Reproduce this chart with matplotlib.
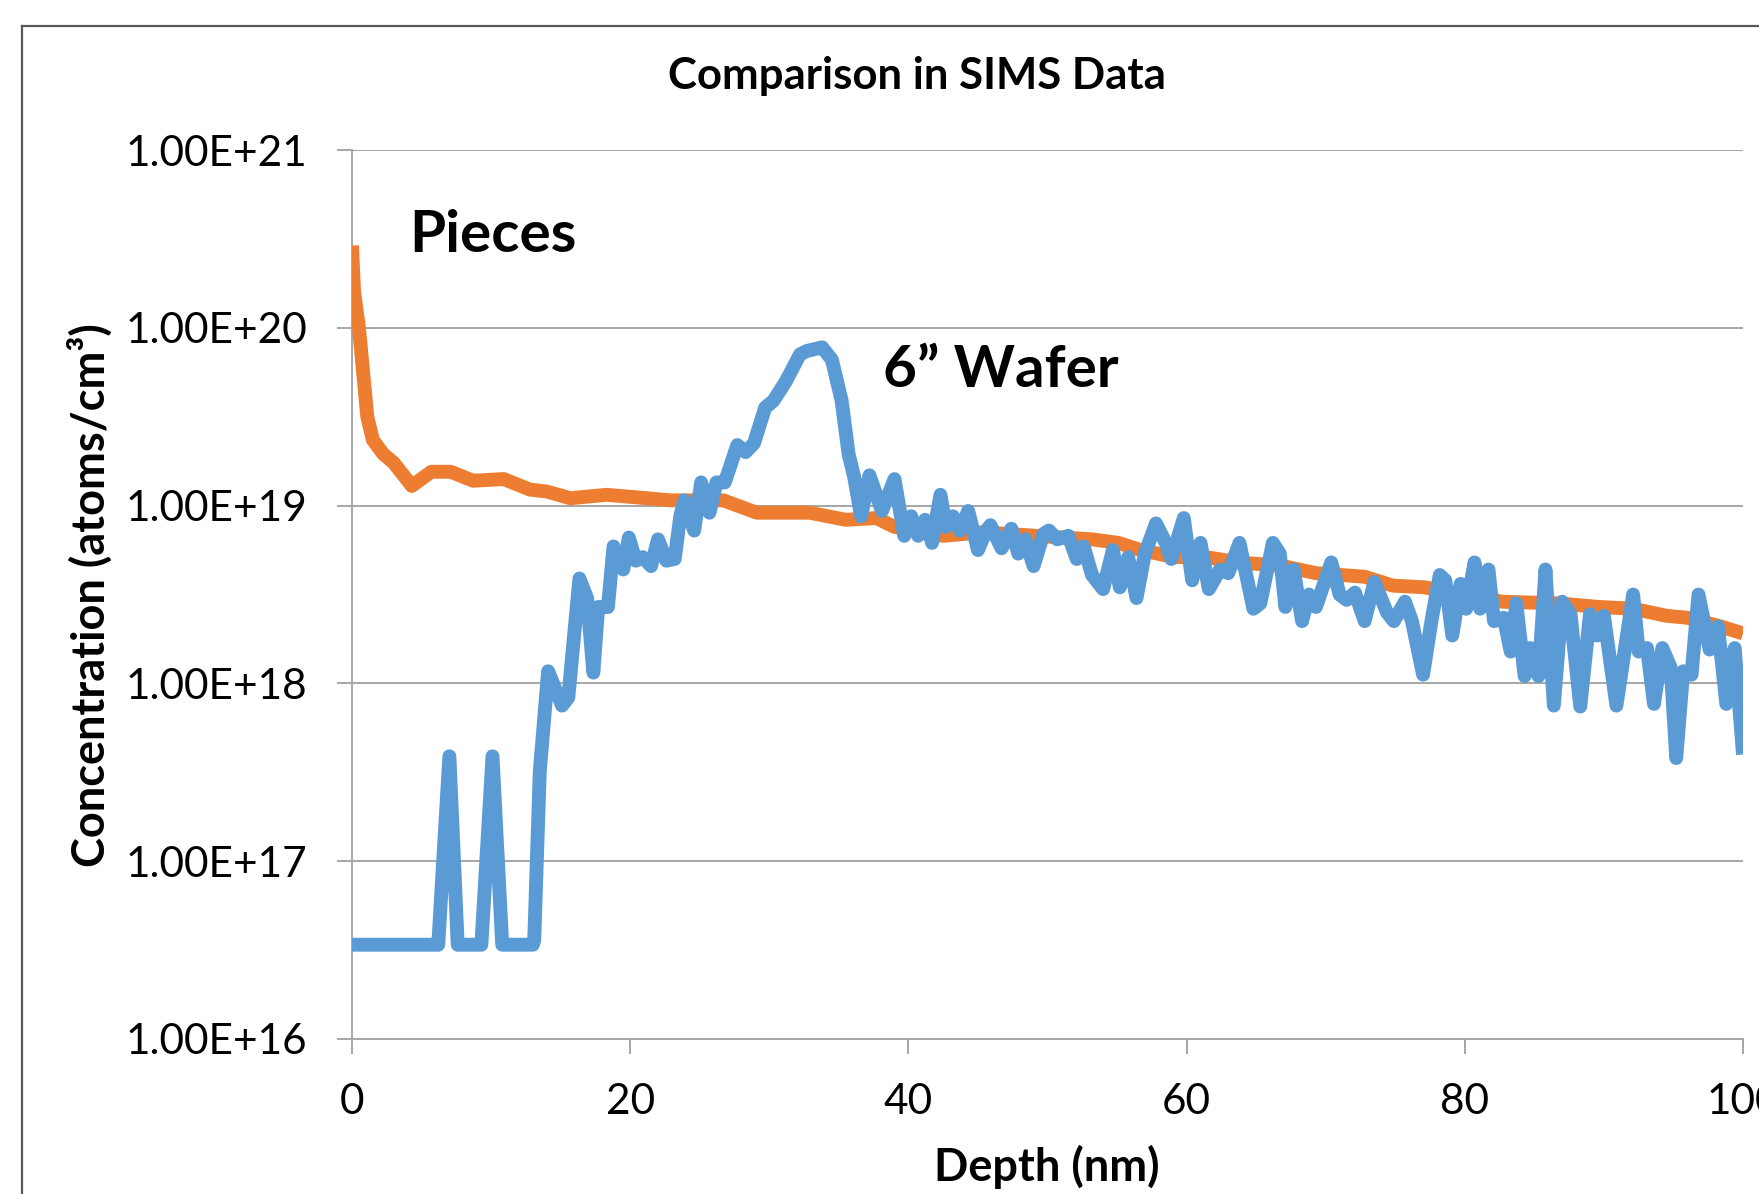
import matplotlib
matplotlib.use("Agg")
import matplotlib.pyplot as plt
from matplotlib.lines import Line2D

plt.rcParams['font.family'] = ['Lato', 'DejaVu Sans']

# ---- data ----
wafer_depth = [0, 6.2, 7.0, 7.6, 9.3, 10.1, 10.8, 13.0, 13.1, 13.5, 14.1, 15.1, 15.55, 16.35,
               16.9, 17.35, 17.7, 18.4, 18.8, 19.5, 19.9, 20.4, 20.9, 21.5, 22.0, 22.6, 23.2,
               23.6, 23.9, 24.6, 25.1, 25.7, 26.2, 26.8, 27.7, 28.3, 28.9, 29.7, 30.3, 31.2,
               32.2, 32.7, 33.8, 34.5, 35.2, 35.7, 36.1, 36.6, 37.2, 38.1, 39.0, 39.7, 40.2,
               40.7, 41.2, 41.7, 42.3, 42.7, 43.2, 43.7, 44.3, 45.0, 45.6, 45.9, 46.7, 47.4,
               47.9, 48.4, 49.0, 49.7, 50.1, 50.7, 51.5, 52.1, 52.6, 53.2, 54.0, 54.7, 55.2,
               55.8, 56.4, 57.0, 57.8, 58.5, 58.9, 59.8, 60.4, 61.0, 61.6, 62.4, 63.0, 63.8,
               64.8, 65.3, 66.2, 66.7, 67.1, 67.7, 68.3, 68.8, 69.3, 70.4, 71.0, 71.5, 72.1,
               72.8, 73.5, 74.4, 74.9, 75.7, 76.2, 77.0, 77.6, 78.2, 78.6, 79.1, 79.7, 80.1,
               80.7, 81.1, 81.7, 82.1, 82.8, 83.3, 83.7, 84.3, 84.7, 85.3, 85.8, 86.4, 87.0,
               87.6, 88.3, 89.0, 89.5, 90.0, 90.9, 92.1, 92.5, 93.1, 93.6, 94.2, 94.8, 95.2,
               95.7, 96.3, 96.8, 97.6, 98.2, 98.8, 99.4, 100.0]
wafer_conc = [3.39e16, 3.39e16, 3.89e17, 3.39e16, 3.39e16, 3.89e17, 3.39e16, 3.39e16, 3.6e16,
              3.2e17, 1.17e18, 7.50e17, 8.32e17, 3.89e18, 3.02e18, 1.15e18, 2.69e18, 2.69e18,
              5.89e18, 4.37e18, 6.61e18, 4.90e18, 5.13e18, 4.57e18, 6.46e18, 4.90e18, 5.01e18,
              8.71e18, 1.07e19, 7.24e18, 1.35e19, 9.12e18, 1.35e19, 1.35e19, 2.19e19, 2.00e19,
              2.24e19, 3.55e19, 3.89e19, 5.01e19, 7.08e19, 7.41e19, 7.76e19, 6.61e19, 3.89e19,
              1.95e19, 1.45e19, 8.71e18, 1.48e19, 9.33e18, 1.41e19, 6.76e18, 8.71e18, 6.76e18,
              8.32e18, 6.17e18, 1.15e19, 7.59e18, 8.71e18, 7.24e18, 9.33e18, 5.62e18, 7.24e18,
              7.76e18, 5.75e18, 7.41e18, 5.37e18, 6.46e18, 4.57e18, 6.92e18, 7.24e18, 6.46e18,
              6.76e18, 5.01e18, 5.89e18, 4.07e18, 3.39e18, 5.62e18, 3.47e18, 5.13e18, 3.02e18,
              5.37e18, 7.94e18, 6.17e18, 5.01e18, 8.51e18, 3.80e18, 6.17e18, 3.39e18, 4.37e18,
              4.17e18, 6.17e18, 2.63e18, 2.82e18, 6.17e18, 5.37e18, 2.69e18, 4.37e18, 2.24e18,
              3.16e18, 2.69e18, 4.79e18, 3.16e18, 2.95e18, 3.24e18, 2.24e18, 3.72e18, 2.51e18,
              2.24e18, 2.88e18, 2.24e18, 1.12e18, 2.24e18, 4.07e18, 3.80e18, 1.86e18, 3.63e18,
              2.63e18, 4.79e18, 2.63e18, 4.37e18, 2.24e18, 2.34e18, 1.51e18, 2.82e18, 1.10e18,
              1.58e18, 1.10e18, 4.37e18, 7.50e17, 2.88e18, 2.45e18, 7.41e17, 2.45e18, 1.86e18,
              2.40e18, 7.50e17, 3.16e18, 1.51e18, 1.58e18, 7.67e17, 1.58e18, 1.23e18, 3.80e17,
              1.17e18, 1.12e18, 3.16e18, 1.55e18, 2.09e18, 7.67e17, 1.58e18, 3.98e17]

pieces_depth = [0.0, 0.15, 0.5, 1.1, 1.5, 2.25, 3.0, 4.3, 5.7, 7.1, 8.7, 10.9, 12.8, 14.0,
                15.7, 18.3, 21.2, 22.9, 26.7, 29.1, 32.9, 35.5, 37.7, 39.0, 42.5, 45.3, 49.2,
                53.2, 55.1, 56.7, 59.1, 61.4, 63.8, 66.9, 69.3, 72.8, 74.8, 77.1, 82.7, 86.6,
                89.7, 92.1, 94.5, 96.0, 98.4, 100.0]
pieces_conc = [2.9e20, 1.6e20, 1.0e20, 3.16e19, 2.34e19, 1.95e19, 1.74e19, 1.29e19, 1.55e19,
               1.55e19, 1.38e19, 1.41e19, 1.23e19, 1.20e19, 1.10e19, 1.15e19, 1.10e19, 1.07e19,
               1.07e19, 9.12e18, 9.12e18, 8.32e18, 8.51e18, 7.59e18, 6.76e18, 7.08e18, 6.76e18,
               6.46e18, 6.17e18, 5.62e18, 5.13e18, 5.13e18, 4.79e18, 4.57e18, 4.17e18, 3.98e18,
               3.55e18, 3.47e18, 2.88e18, 2.82e18, 2.69e18, 2.63e18, 2.40e18, 2.34e18, 2.09e18,
               1.91e18]

x_ticks = [0, 20, 40, 60, 80, 100]
y_ticks = [1e16, 1e17, 1e18, 1e19, 1e20, 1e21]
y_tick_labels = ["1.00E+16", "1.00E+17", "1.00E+18", "1.00E+19", "1.00E+20", "1.00E+21"]

title = "Comparison in SIMS Data"
x_label = "Depth (nm)"
y_label = "Concentration (atoms/cm³)"

# ---- figure ----
W, H = 1759, 1194
fig = plt.figure(figsize=(W / 100, H / 100), dpi=100)

# outer chart frame (cropped at right/bottom)
fig.add_artist(Line2D([22 / W, 1.0], [1 - 26 / H, 1 - 26 / H], color="#595959", lw=1.6,
                      transform=fig.transFigure))
fig.add_artist(Line2D([22 / W, 22 / W], [1 - 26 / H, 0.0], color="#595959", lw=1.6,
                      transform=fig.transFigure))

ax = fig.add_axes([352 / W, 1 - 1039 / H, (1743 - 352) / W, (1039 - 150) / H])
ax.set_yscale("log")
ax.set_xlim(0, 100)
ax.set_ylim(1e16, 1e21)

grid_c = "#a6a6a6"
ax.plot(pieces_depth, pieces_conc, color="#ED7D31", lw=10, solid_joinstyle="round",
        solid_capstyle="butt", zorder=3)
ax.plot(wafer_depth, wafer_conc, color="#5B9BD5", lw=10, solid_joinstyle="round",
        solid_capstyle="butt", zorder=4)

ax.set_yticks(y_ticks)
ax.set_yticklabels(y_tick_labels)
ax.yaxis.set_minor_locator(matplotlib.ticker.NullLocator())
ax.set_xticks(x_ticks)
ax.set_xticklabels([str(v) for v in x_ticks])
ax.grid(axis="y", color=grid_c, lw=1.4, zorder=0)
for s in ["top", "right"]:
    ax.spines[s].set_visible(False)
for s in ["left", "bottom"]:
    ax.spines[s].set_color(grid_c)
    ax.spines[s].set_linewidth(1.4)
ax.tick_params(axis="both", colors=grid_c, width=1.4, length=10.5, labelsize=30.5,
               labelcolor="black")
ax.tick_params(axis="x", pad=21)
ax.tick_params(axis="y", pad=22)

ax.text(4.1, 10 ** 20.52, "Pieces", fontsize=42, fontweight="bold", va="center", ha="left",
        zorder=5)
ax.text(38.2, 10 ** 19.76, "6\u201d Wafer", fontsize=42, fontweight="bold", va="center",
        ha="left", zorder=5)

fig.text(917 / W, 1 - 76 / H, title, fontsize=31.5, fontweight="bold", ha="center",
         va="center")
fig.text(1047 / W, 1 - 1167 / H, x_label, fontsize=32.5, fontweight="bold", ha="center",
         va="center")
fig.text(90 / W, 1 - 595 / H, y_label, fontsize=32.5, fontweight="bold", ha="center",
         va="center", rotation=90)

fig.savefig("out.png", dpi=100)
